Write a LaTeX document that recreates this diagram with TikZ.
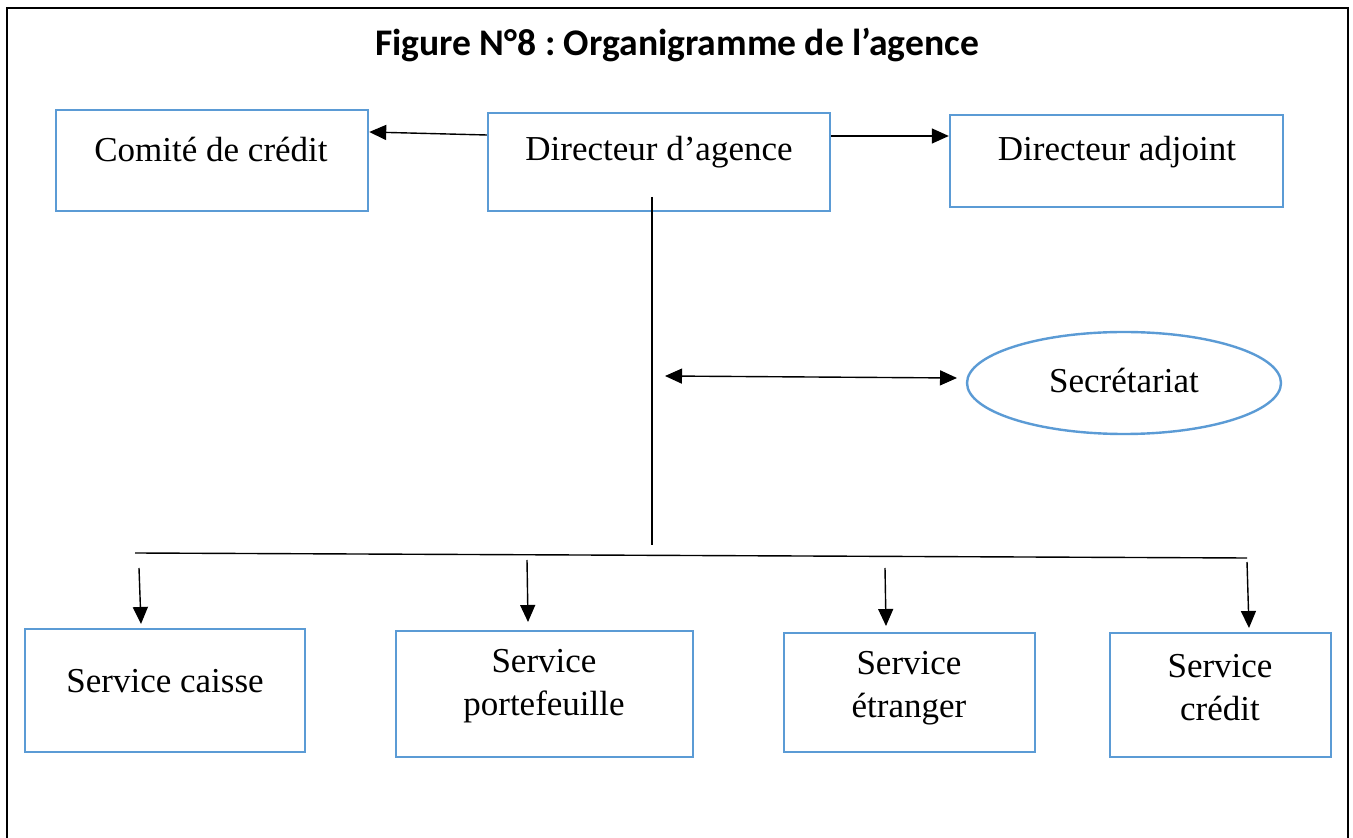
\documentclass[tikz,border=0pt]{standalone}
\usepackage{fontspec}
\setmainfont{Liberation Serif}
\newfontfamily\titlefont{Carlito}
\usetikzlibrary{arrows.meta,shapes.geometric}
\definecolor{boxblue}{RGB}{91,155,213}
\frenchspacing
\tikzset{
  bx/.style={draw=boxblue, line width=1.2pt, rectangle, inner sep=0pt},
  lbl/.style={font=\fontsize{17.5}{21.5}\selectfont, align=center, inner sep=0pt},
  tip/.tip={Triangle[length=8.5pt,width=7.5pt]},
  conn/.style={line width=0.7pt, -tip},
  plain/.style={line width=0.7pt}
}
\begin{document}
\begin{tikzpicture}[x=0.5pt,y=-0.5pt]
\clip (0,0) rectangle (1353,838);
\fill[white] (0,0) rectangle (1353,838);
\draw[line width=1.1pt] (7,8) rectangle (1348,900);
\node[font=\titlefont\bfseries\fontsize{18.8}{22}\selectfont, inner sep=0pt] (title) at (677,45) {Figure N°8 : Organigramme de l’agence};
% top boxes
\node[bx, minimum width=156pt, minimum height=50.5pt] (com) at (212,160.5) {};
\node[lbl] (tcom) at (211,150) {Comité de crédit};
\node[bx, minimum width=171pt, minimum height=49pt] (dir) at (659,162) {};
\node[lbl] (tdir) at (659,152) {Directeur d’agence};
\node[bx, minimum width=166.5pt, minimum height=46pt] (adj) at (1116.5,161) {};
\node[lbl] (tadj) at (1117,152) {Directeur adjoint};
% secretariat
\node[draw=boxblue, line width=1.2pt, ellipse, minimum width=157pt, minimum height=51pt, inner sep=0pt] (sec) at (1124,383) {};
\node[lbl] (tsec) at (1124,381) {Secrétariat};
% bottom boxes
\node[bx, minimum width=140pt, minimum height=61.5pt] (cai) at (165,690.5) {};
\node[lbl] (tcai) at (165,681) {Service caisse};
\node[bx, minimum width=148.5pt, minimum height=63pt] (por) at (544.5,694) {};
\node[lbl] (tpor) at (544,686) {Service\\portefeuille};
\node[bx, minimum width=125.5pt, minimum height=59.5pt] (etr) at (909.5,692.5) {};
\node[lbl] (tetr) at (909,688) {Service\\étranger};
\node[bx, minimum width=110.5pt, minimum height=62pt] (cre) at (1220.5,695) {};
\node[lbl] (tcre) at (1220,688) {Service\\crédit};
% connectors
\draw[conn] (dir.west |- 0,135) -- (com.east |- 0,132);
\draw[conn] (dir.east |- 0,136) -- (adj.west |- 0,136);
\coordinate (vtop) at (652,197);
\coordinate (vbot) at (652,545);
\draw[plain] (vtop) -- (vbot);
\coordinate (sl) at (665,376);
\coordinate (sr) at (957,378);
\draw[line width=0.7pt, tip-tip] (sl) -- (sr);
\coordinate (hl) at (135,553);
\coordinate (hr) at (1247,558);
\draw[plain] (hl) -- (hr);
\coordinate (a1) at (139,568);
\coordinate (a2) at (527,560);
\coordinate (a3) at (885,568);
\coordinate (a4) at (1247,562);
\coordinate (e1) at (141,624);
\coordinate (e2) at (528,622);
\coordinate (e3) at (886,626);
\coordinate (e4) at (1249,628);
\draw[conn] (a1) -- (e1);
\draw[conn] (a2) -- (e2);
\draw[conn] (a3) -- (e3);
\draw[conn] (a4) -- (e4);
\end{tikzpicture}
\end{document}
